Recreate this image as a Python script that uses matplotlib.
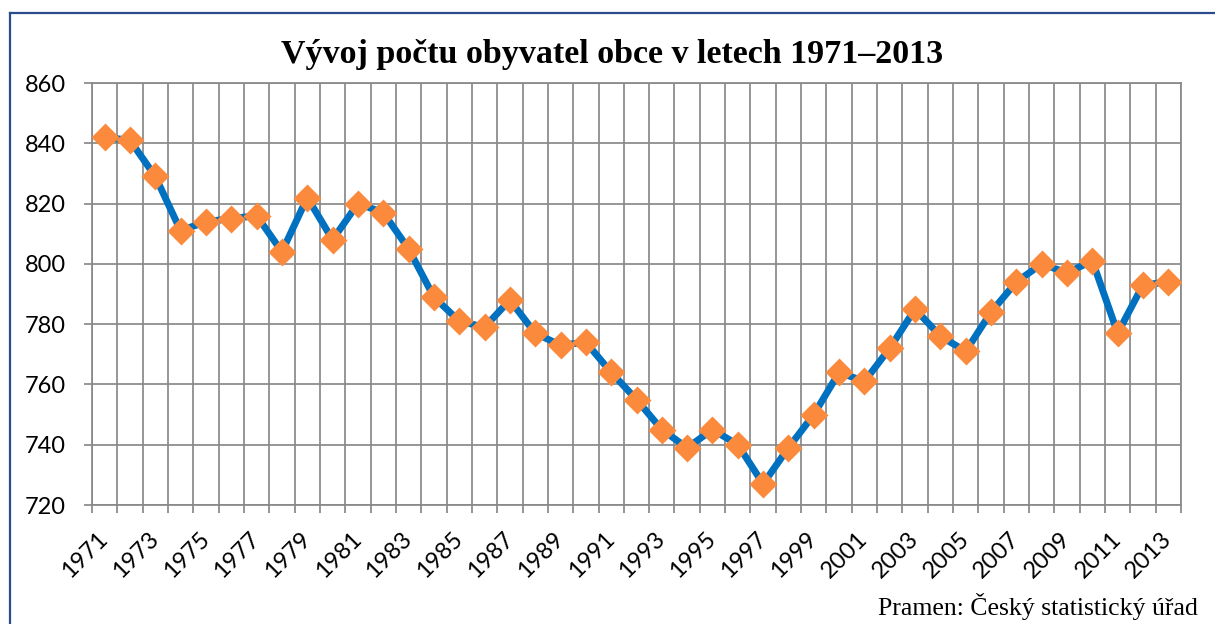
import matplotlib
matplotlib.use("Agg")
import numpy as np
from matplotlib import pyplot as plt
from matplotlib.lines import Line2D

# roky a pocet obyvatel
years = list(range(1971, 2014))
population = [842, 841, 829, 811, 814, 815, 816, 804, 822, 808,
              820, 817, 805, 789, 781, 779, 788, 777, 773, 774,
              764, 755, 745, 739, 745, 740, 727, 739, 750, 764,
              761, 772, 785, 776, 771, 784, 794, 800, 797, 801,
              777, 793, 794]
y_ticks = [720, 740, 760, 780, 800, 820, 840, 860]

title = "Vývoj počtu obyvatel obce v letech 1971–2013"
source = "Pramen: Český statistický úřad"

grid_col = "#898989"


def main():
    fig = plt.figure(figsize=(12.15, 6.24), dpi=100)
    ax = fig.add_axes([92 / 1215, 1 - 505 / 624, (1181 - 92) / 1215, (505 - 83) / 624])

    x = np.arange(len(years))
    ax.plot(x, population, color="#0070C0", lw=5, marker="D", ms=14.5,
            mfc="#FB8A3C", mec="none", zorder=3, solid_joinstyle="round")

    ax.set_xlim(-0.5, len(years) - 0.5)
    ax.set_ylim(720, 860)

    # hranice kategorii -> svisla mrizka
    ax.set_xticks(np.arange(-0.5, len(years), 1.0))
    ax.set_xticklabels([])
    ax.set_xticks(x[::2], minor=True)
    ax.set_xticklabels([str(y) for y in years[::2]], minor=True,
                       rotation=45, ha="right", va="center",
                       rotation_mode="anchor", fontsize=17, family="Lato")
    ax.tick_params(axis="x", which="major", length=6, width=1.25,
                   color=grid_col, direction="out")
    ax.tick_params(axis="x", which="minor", length=0, pad=22)

    ax.set_yticks(y_ticks)
    ax.set_yticklabels([str(v) for v in y_ticks], fontsize=17, family="Lato")
    ax.tick_params(axis="y", length=6, width=1.25, color=grid_col, pad=13)

    ax.grid(True, which="major", color=grid_col, lw=1.25)
    ax.set_axisbelow(True)
    for s in ax.spines.values():
        s.set_color(grid_col)
        s.set_linewidth(1.25)

    fig.text(0.504, 1 - 63 / 624, title, ha="center", va="baseline",
             fontsize=24.5, fontweight="bold", family="Liberation Serif")
    fig.text(1198 / 1215, 1 - 615 / 624, source, ha="right", va="baseline",
             fontsize=18.5, family="Liberation Serif")

    # ramecek grafu (jen horni a leva hrana)
    border = "#2A4B8D"
    fig.add_artist(Line2D([10 / 1215, 1], [1 - 13 / 624, 1 - 13 / 624],
                          color=border, lw=1.6, transform=fig.transFigure))
    fig.add_artist(Line2D([10 / 1215, 10 / 1215], [0, 1 - 13 / 624],
                          color=border, lw=1.6, transform=fig.transFigure))

    fig.savefig("out.png", dpi=100)


if __name__ == "__main__":
    main()
